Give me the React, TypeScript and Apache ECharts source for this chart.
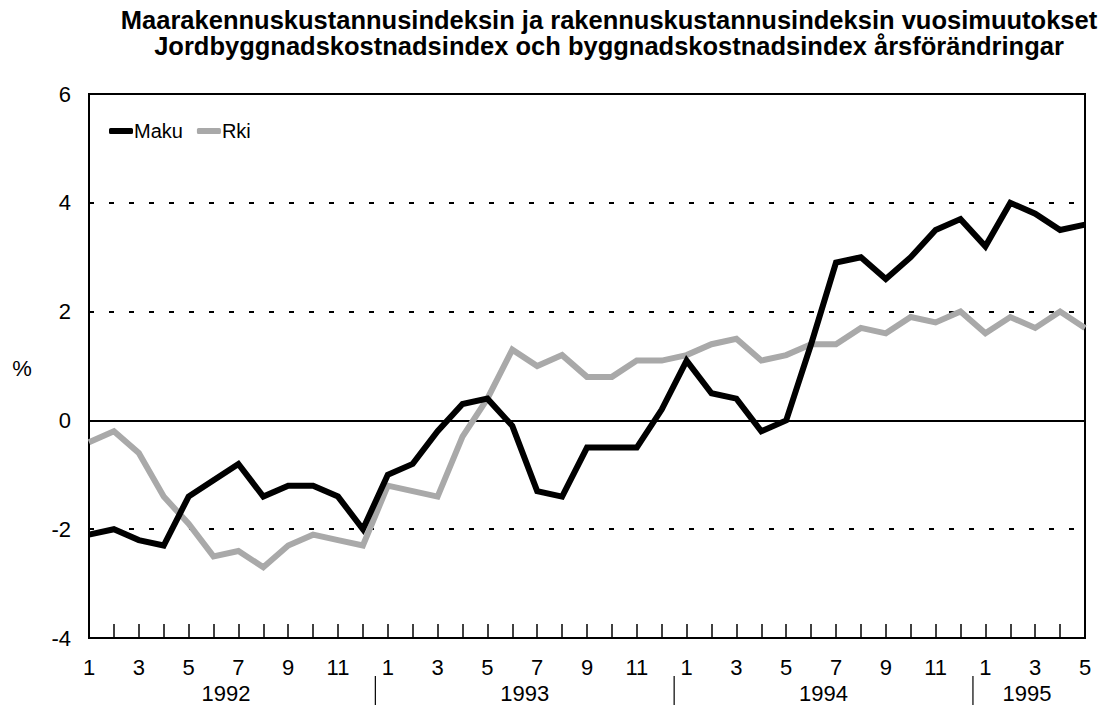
import React, { useEffect, useRef } from "react";
import * as echarts from "echarts";

const years = ["1992", "1993", "1994", "1995"];
const monthsPerYear = [12, 12, 12, 5];
const yTicks = { min: -4, max: 6, interval: 2 };

const makuValues = [
  -2.1, -2.0, -2.2, -2.3, -1.4, -1.1, -0.8, -1.4, -1.2, -1.2, -1.4, -2.0,
  -1.0, -0.8, -0.2, 0.3, 0.4, -0.1, -1.3, -1.4, -0.5, -0.5, -0.5, 0.2,
  1.1, 0.5, 0.4, -0.2, 0.0, 1.4, 2.9, 3.0, 2.6, 3.0, 3.5, 3.7,
  3.2, 4.0, 3.8, 3.5, 3.6,
];
const rkiValues = [
  -0.4, -0.2, -0.6, -1.4, -1.9, -2.5, -2.4, -2.7, -2.3, -2.1, -2.2, -2.3,
  -1.2, -1.3, -1.4, -0.3, 0.4, 1.3, 1.0, 1.2, 0.8, 0.8, 1.1, 1.1,
  1.2, 1.4, 1.5, 1.1, 1.2, 1.4, 1.4, 1.7, 1.6, 1.9, 1.8, 2.0,
  1.6, 1.9, 1.7, 2.0, 1.7,
];

const titleLines = [
  "Maarakennuskustannusindeksin ja rakennuskustannusindeksin vuosimuutokset",
  "Jordbyggnadskostnadsindex och byggnadskostnadsindex årsförändringar",
];

const categories: string[] = [];
years.forEach((y, i) => {
  for (let m = 1; m <= monthsPerYear[i]; m++) categories.push(`${y}-${m}`);
});

const FONT = '"Liberation Sans Narrow", "Arial Narrow", "Liberation Sans", Arial, sans-serif';
const BLACK = "#000";
const GREY = "#a9a9a9";

export default function App() {
  const ref = useRef<HTMLDivElement>(null);
  useEffect(() => {
    if (!ref.current) return;
    const chart = echarts.init(ref.current, undefined, { renderer: "svg" });
    const option: any = {
      animation: false,
      backgroundColor: "#fff",
      grid: {
        left: 89,
        right: 24,
        top: 94,
        bottom: 75,
        show: true,
        borderColor: BLACK,
        borderWidth: 2,
        backgroundColor: "transparent",
      },
      legend: {
        left: 104,
        top: 116,
        itemWidth: 24,
        itemHeight: 6,
        itemGap: 14,
        textStyle: { fontFamily: FONT, fontSize: 20, color: BLACK, padding: [0, 0, 0, -4] },
        data: [
          { name: "Maku", icon: "roundRect", itemStyle: { color: BLACK } },
          { name: "Rki", icon: "roundRect", itemStyle: { color: GREY } },
        ],
      },
      xAxis: {
        type: "category",
        data: categories,
        boundaryGap: false,
        axisLine: { show: true, onZero: false, lineStyle: { color: BLACK, width: 2 } },
        axisTick: {
          show: true,
          inside: true,
          length: 14,
          interval: 0,
          lineStyle: { color: BLACK, width: 1.5 },
        },
        axisLabel: {
          interval: 1,
          margin: 18,
          fontFamily: FONT,
          fontSize: 22,
          color: BLACK,
          formatter: (v: string) => v.split("-")[1],
        },
        splitLine: { show: false },
      },
      yAxis: {
        type: "value",
        min: yTicks.min,
        max: yTicks.max,
        interval: yTicks.interval,
        axisLine: { show: true, lineStyle: { color: BLACK, width: 2 } },
        axisTick: { show: false },
        axisLabel: {
          margin: 18,
          fontFamily: FONT,
          fontSize: 22,
          color: BLACK,
        },
        splitLine: {
          show: true,
          lineStyle: { color: BLACK, width: 2, type: [5, 15] },
        },
      },
      series: [
        {
          name: "Maku",
          type: "line",
          data: makuValues,
          symbol: "none",
          z: 3,
          lineStyle: { color: BLACK, width: 6, join: "miter" },
          itemStyle: { color: BLACK },
          markLine: {
            silent: true,
            symbol: "none",
            label: { show: false },
            lineStyle: { color: BLACK, width: 2, type: "solid" },
            data: [{ yAxis: 0 }],
            z: 1,
          },
        },
        {
          name: "Rki",
          type: "line",
          data: rkiValues,
          symbol: "none",
          z: 2,
          lineStyle: { color: GREY, width: 6, join: "miter" },
          itemStyle: { color: GREY },
        },
      ],
    };
    chart.setOption(option);

    // Year labels and separators placed from the axis scale
    const px = (i: number) => chart.convertToPixel({ xAxisIndex: 0 }, i) as number;
    const graphics: any[] = [];
    let start = 0;
    years.forEach((y, i) => {
      const end = start + monthsPerYear[i] - 1;
      const left = start === 0 ? px(0) - (px(1) - px(0)) / 2 : (px(start - 1) + px(start)) / 2;
      const right = i === years.length - 1 ? px(end) : (px(end) + px(end + 1)) / 2;
      graphics.push({
        type: "text",
        x: (left + right) / 2 + (i === years.length - 1 ? -2 : 0),
        y: 693,
        style: {
          text: y,
          fill: BLACK,
          font: `22px ${FONT}`,
          textAlign: "center",
          textVerticalAlign: "middle",
        },
      });
      if (i < years.length - 1) {
        graphics.push({
          type: "line",
          shape: { x1: right, y1: 676, x2: right, y2: 708 },
          style: { stroke: BLACK, lineWidth: 1.2 },
        });
      }
      start = end + 1;
    });
    graphics.push({
      type: "text",
      x: 609,
      y: 7,
      style: {
        text: titleLines.join("\n"),
        fill: BLACK,
        font: `bold 25.5px ${FONT}`,
        lineHeight: 26,
        textAlign: "center",
      },
    });
    graphics.push({
      type: "text",
      x: 22,
      y: 368,
      style: {
        text: "%",
        fill: BLACK,
        font: `22px ${FONT}`,
        textAlign: "center",
        textVerticalAlign: "middle",
      },
    });
    chart.setOption({ graphic: graphics });

    return () => chart.dispose();
  }, []);
  return <div ref={ref} style={{ width: 1109, height: 713, margin: -8 }} />;
}
